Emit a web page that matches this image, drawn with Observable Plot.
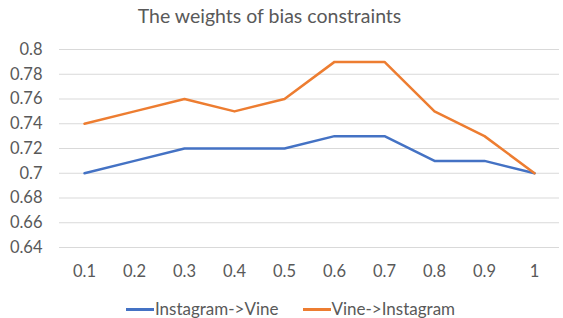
<!DOCTYPE html>
<html><head><meta charset="utf-8">
<script src="https://cdn.jsdelivr.net/npm/d3@7"></script>
<script src="https://cdn.jsdelivr.net/npm/@observablehq/plot@0.6"></script>
<style>
body{margin:0;background:#fff;font-family:Lato,"Open Sans",sans-serif;color:#595959;}
#wrap{width:563px;height:318px;position:relative;overflow:hidden;}
#title{height:36px;line-height:32px;text-align:center;font-size:19.5px;color:#595959;margin-right:24px;}
#legend{display:flex;justify-content:center;gap:24px;font-size:17px;color:#595959;height:28px;align-items:center;margin-left:18px;padding-top:4px;}
.sw{display:inline-block;width:28px;height:3px;vertical-align:middle;margin-right:1px;position:relative;top:-1px;}
</style></head><body>
<div id="wrap">
<div id="title">The weights of bias constraints</div>
<div id="chart"></div>
<div id="legend"></div>
</div>
<script>
const categories = ["0.1","0.2","0.3","0.4","0.5","0.6","0.7","0.8","0.9","1"];
const instagramToVine = [0.70,0.71,0.72,0.72,0.72,0.73,0.73,0.71,0.71,0.70];
const vineToInstagram = [0.74,0.75,0.76,0.75,0.76,0.79,0.79,0.75,0.73,0.70];
const seriesNames = ["Instagram->Vine","Vine->Instagram"];
const seriesColors = ["#4472C4","#ED7D31"];
const yTicks = [0.64,0.66,0.68,0.70,0.72,0.74,0.76,0.78,0.80];

const data = [];
[instagramToVine, vineToInstagram].forEach((arr,si)=>arr.forEach((v,i)=>data.push({x:categories[i],y:v,s:seriesNames[si]})));

const chart = Plot.plot({
  width:563, height:254,
  marginLeft:59, marginRight:4, marginTop:13, marginBottom:43,
  style:{fontFamily:"Lato,'Open Sans',sans-serif",fontSize:"16.5px",color:"#595959"},
  x:{type:"point",domain:categories,padding:0.5,label:null},
  y:{domain:[0.64,0.8],label:null},
  color:{domain:seriesNames,range:seriesColors},
  marks:[
    Plot.gridY(yTicks,{stroke:"#d9d9d9",strokeOpacity:1,strokeWidth:1}),
    Plot.axisY(yTicks,{tickSize:0,tickPadding:17,tickFormat:d=>String(+d.toFixed(2)),fontSize:16.5,fill:"#595959"}),
    Plot.axisX({tickSize:0,tickPadding:18,fontSize:16.5,fill:"#595959"}),
    Plot.line(data,{x:"x",y:"y",z:"s",stroke:"s",strokeWidth:2.5,strokeLinejoin:"round"})
  ]
});
document.getElementById("chart").appendChild(chart);
const leg = document.getElementById("legend");
seriesNames.forEach((n,i)=>{
  const s=document.createElement("span");
  s.innerHTML=`<span class="sw" style="background:${seriesColors[i]}"></span>${n.replace(/>/g,"&gt;")}`;
  leg.appendChild(s);
});
</script>
</body></html>
